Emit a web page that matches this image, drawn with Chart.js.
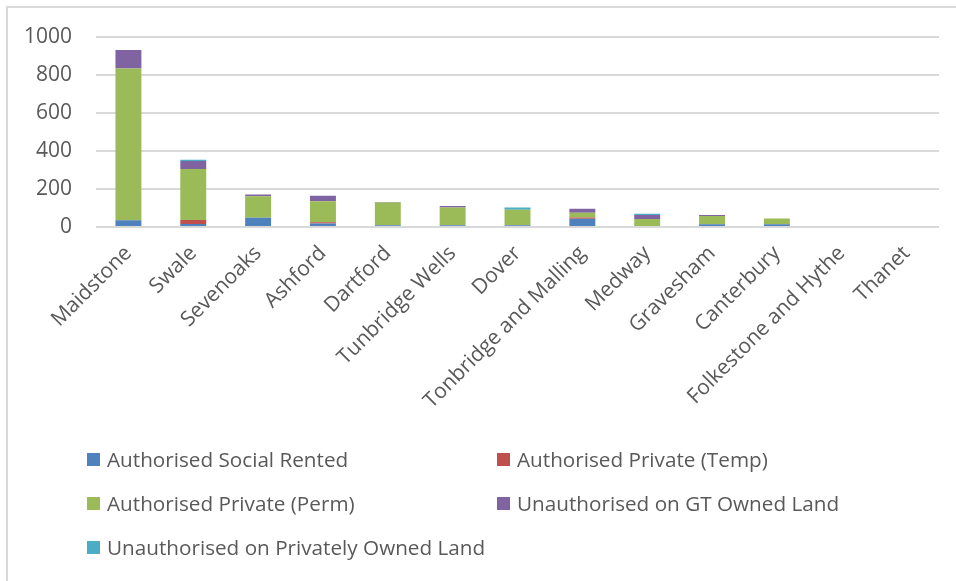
<!DOCTYPE html>
<html>
<head>
<meta charset="utf-8">
<script src="https://cdn.jsdelivr.net/npm/chart.js@4.4.1/dist/chart.umd.min.js"></script>
<style>
  html, body { margin: 0; padding: 0; background: #fff; }
  body { width: 956px; height: 581px; position: relative; overflow: hidden; font-family: "Open Sans", sans-serif; }
  #frame { position: absolute; left: 6px; top: 6px; width: 960px; height: 590px; border-top: 2px solid #d9d9d9; border-left: 2px solid #d9d9d9; }
  #wrap { position: absolute; left: 0; top: 0; width: 956px; height: 440px; }
  #legend { position: absolute; left: 0; top: 0; width: 956px; height: 581px; pointer-events: none; }
  .item { position: absolute; display: flex; align-items: center; color: #595959; font-size: 20.7px; white-space: nowrap; }
  .sw { width: 13px; height: 13px; margin-right: 7px; }
</style>
</head>
<body>
<div id="frame"></div>
<div id="wrap"><canvas id="c"></canvas></div>
<div id="legend"></div>
<script>
const categories = ["Maidstone","Swale","Sevenoaks","Ashford","Dartford","Tunbridge Wells","Dover","Tonbridge and Malling","Medway","Gravesham","Canterbury","Folkestone and Hythe","Thanet"];
const socialRented   = [35, 16, 49, 18, 9, 9, 9, 43, 0, 14, 14, 0, 0];
const privateTemp    = [0, 21, 0, 7, 0, 0, 0, 7, 0, 0, 0, 0, 0];
const privatePerm    = [797, 267, 113, 110, 120, 94, 82, 25, 42, 44, 30, 0, 0];
const unauthGT       = [97, 42, 9, 29, 2, 7, 0, 21, 21, 5, 0, 0, 0];
const unauthPrivate  = [0, 7, 0, 0, 0, 0, 12, 0, 7, 0, 0, 0, 0];
const seriesNames = ["Authorised Social Rented","Authorised Private (Temp)","Authorised Private (Perm)","Unauthorised on GT Owned Land","Unauthorised on Privately Owned Land"];
const seriesColors = ["#4f81bd","#c0504d","#9bbb59","#8064a2","#4bacc6"];
const yTicks = [0, 200, 400, 600, 800, 1000];

const seriesData = [socialRented, privateTemp, privatePerm, unauthGT, unauthPrivate];
const datasets = seriesNames.map((n, i) => ({
  label: n,
  data: seriesData[i],
  backgroundColor: seriesColors[i],
  borderWidth: 0,
  categoryPercentage: 1.0,
  barPercentage: 0.4
}));

const tickColor = "#595959";
new Chart(document.getElementById("c"), {
  type: "bar",
  data: { labels: categories, datasets },
  options: {
    responsive: true,
    maintainAspectRatio: false,
    animation: false,
    layout: { padding: { left: 0, right: 17, top: 36, bottom: 0 } },
    plugins: { legend: { display: false }, tooltip: { enabled: false } },
    scales: {
      x: {
        stacked: true,
        grid: { display: false, drawTicks: false },
        border: { display: false },
        ticks: {
          color: tickColor,
          font: { family: "Open Sans", size: 21 },
          minRotation: 45, maxRotation: 45,
          autoSkip: false,
          padding: 14
        },
        afterFit: (s) => { s.height = 213; }
      },
      y: {
        stacked: true,
        min: 0, max: 1000,
        afterBuildTicks: (s) => { s.ticks = yTicks.map(v => ({ value: v })); },
        grid: { color: "#d9d9d9", lineWidth: 2, drawTicks: false },
        border: { display: false },
        ticks: {
          color: tickColor,
          font: { family: "Open Sans", size: 21 },
          padding: 24,
          callback: (v) => String(v)
        },
        afterFit: (s) => { s.width = 96; }
      }
    }
  }
});

const legend = document.getElementById("legend");
const pos = [[87,459],[497,459],[87,503],[497,503],[87,547]];
seriesNames.forEach((n, i) => {
  const d = document.createElement("div");
  d.className = "item";
  d.style.left = pos[i][0] + "px";
  d.style.top = (pos[i][1] - 14) + "px";
  d.style.height = "28px";
  d.innerHTML = '<span class="sw" style="background:' + seriesColors[i] + '"></span><span></span>';
  d.lastChild.textContent = n;
  legend.appendChild(d);
});
</script>
</body>
</html>
